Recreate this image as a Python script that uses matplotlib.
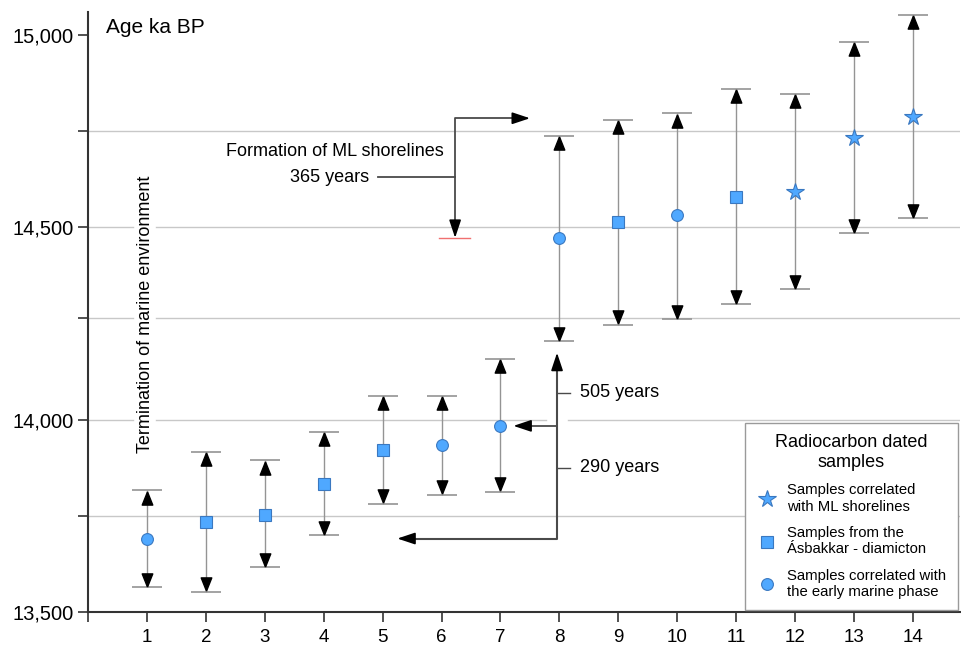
import matplotlib.pyplot as plt
from matplotlib.lines import Line2D
from matplotlib.transforms import offset_copy

plt.rcParams['font.family'] = ['Liberation Sans', 'DejaVu Sans']

# sample data (ages in years BP)
sample = list(range(1, 15))
age = [13691, 13735, 13753, 13834, 13922, 13935, 13984,
       14473, 14514, 14532, 14579, 14592, 14732, 14787]
age_max = [13816, 13917, 13894, 13969, 14062, 14062, 14158,
           14738, 14779, 14797, 14860, 14847, 14982, 15052]
age_min = [13564, 13553, 13616, 13699, 13782, 13805, 13813,
           14205, 14247, 14262, 14301, 14340, 14486, 14525]
group = ['marine', 'diamicton', 'diamicton', 'diamicton', 'diamicton', 'marine', 'marine',
         'marine', 'diamicton', 'marine', 'diamicton', 'shoreline', 'shoreline', 'shoreline']

ref_lines = [14750, 14500, 14265, 14000, 13750]

blue = '#4fa8ff'
edge = '#3a78c0'
styles = {'shoreline': ('*', 13), 'diamicton': ('s', 8), 'marine': ('o', 8.5)}

fig = plt.figure(figsize=(9.62, 6.45), dpi=100)
ax = fig.add_axes([0.0915, 0.0512, 0.9065, 0.930])
ax.set_xlim(0, 14.8)
ax.set_ylim(13500, 15060)

# reference lines, broken where the vertical label / arrow cross them
text_gap = (0.76, 1.16)
arrow_gap = (7.77, 8.15)
for v in ref_lines:
    gaps = []
    if 13914 < v < 14636:
        gaps.append(text_gap)
    if v == 14000:
        gaps.append(arrow_gap)
    start = 0
    for g0, g1 in gaps:
        ax.plot([start, g0], [v, v], color='#c8c8c8', lw=1, zorder=1)
        start = g1
    ax.plot([start, 14.8], [v, v], color='#c8c8c8', lw=1, zorder=1)

# error ranges
lo = [a - m for a, m in zip(age, age_min)]
hi = [m - a for a, m in zip(age, age_max)]
eb = ax.errorbar(sample, age, yerr=[lo, hi], fmt='none', ecolor='#949494', elinewidth=1,
                 capsize=10.5, capthick=1.2, zorder=2)
for cap in eb[1]:
    cap.set_color('#404040')

tri_up = [(0, 1), (-0.8, -1), (0.8, -1), (0, 1)]
tri_dn = [(0, -1), (-0.8, 1), (0.8, 1), (0, -1)]
ms = 9.5
up_tr = offset_copy(ax.transData, fig=fig, x=0, y=-ms / 2 - 0.5, units='points')
dn_tr = offset_copy(ax.transData, fig=fig, x=0, y=ms / 2 + 0.5, units='points')
ax.plot(sample, age_max, ls='none', marker=tri_up, ms=ms, color='black', transform=up_tr, zorder=3)
ax.plot(sample, age_min, ls='none', marker=tri_dn, ms=ms, color='black', transform=dn_tr, zorder=3)

for g, (mk, size) in styles.items():
    xs = [s for s, gg in zip(sample, group) if gg == g]
    ys = [a for a, gg in zip(age, group) if gg == g]
    ax.plot(xs, ys, ls='none', marker=mk, ms=size, mfc=blue, mec=edge, mew=0.8, zorder=4)

# annotations
line_c = '#4a4a4a'
head = dict(arrowstyle='-|>,head_length=0.6,head_width=0.2', color='black', lw=1.2,
            mutation_scale=18, shrinkA=0, shrinkB=0)

ax.plot([5.96, 6.49], [14473, 14473], color='#f07070', lw=1, zorder=2)
ax.plot([4.92, 6.23], [14631, 14631], color=line_c, lw=1.3)
ax.plot([6.23, 6.23, 7.4], [14500, 14784, 14784], color=line_c, lw=1.3)
ax.annotate('', xy=(6.23, 14473), xytext=(6.23, 14510), arrowprops=head)
ax.annotate('', xy=(7.5, 14784), xytext=(7.3, 14784), arrowprops=head)
ax.text(4.19, 14698, 'Formation of ML shorelines', fontsize=13, ha='center', va='center')
ax.text(4.77, 14631, '365 years', fontsize=13, ha='right', va='center')

ax.plot([5.35, 7.96, 7.96], [13691, 13691, 14150], color=line_c, lw=1.5)
ax.plot([7.96, 7.3], [13984, 13984], color=line_c, lw=1.3)
ax.annotate('', xy=(7.96, 14174), xytext=(7.96, 14130), arrowprops=head)
ax.annotate('', xy=(5.25, 13691), xytext=(5.45, 13691), arrowprops=head)
ax.annotate('', xy=(7.22, 13984), xytext=(7.42, 13984), arrowprops=head)
ax.plot([7.96, 8.18], [14070, 14070], color=line_c, lw=1)
ax.plot([7.96, 8.18], [13875, 13875], color=line_c, lw=1)
ax.text(8.35, 14070, '505 years', fontsize=13, ha='left', va='center')
ax.text(8.35, 13875, '290 years', fontsize=13, ha='left', va='center')

ax.text(0.97, 14275, 'Termination of marine environment', fontsize=13, rotation=90,
        ha='center', va='center', zorder=5)

ax.text(0.3, 15020, 'Age ka BP', fontsize=15, ha='left', va='center')

# axes styling
for s in ['top', 'right']:
    ax.spines[s].set_visible(False)
for s in ['left', 'bottom']:
    ax.spines[s].set_color('#333333')
    ax.spines[s].set_linewidth(1.5)
ax.set_xticks(range(0, 15))
ax.set_xticklabels([''] + [str(i) for i in sample], fontsize=13.5)
ax.set_yticks([13500, 14000, 14500, 15000])
ax.set_yticklabels(['13,500', '14,000', '14,500', '15,000'], fontsize=14.5)
ax.set_yticks([13750, 14265, 14750], minor=True)
ax.tick_params(axis='both', which='both', direction='out', length=7, width=1.2, color='#333333')
ax.tick_params(axis='x', pad=5)

handles = [Line2D([], [], ls='none', marker='*', ms=13, mfc=blue, mec=edge, mew=0.8),
           Line2D([], [], ls='none', marker='s', ms=8, mfc=blue, mec=edge, mew=0.8),
           Line2D([], [], ls='none', marker='o', ms=8.5, mfc=blue, mec=edge, mew=0.8)]
labels = ['Samples correlated\nwith ML shorelines',
          'Samples from the\nÁsbakkar - diamicton',
          'Samples correlated with\nthe early marine phase']
leg = ax.legend(handles, labels, title='Radiocarbon dated\nsamples', loc='upper left',
                bbox_to_anchor=(745 / 962, 1 - 423 / 645), bbox_transform=fig.transFigure,
                borderaxespad=0, fontsize=10.7, title_fontsize=13, frameon=True, fancybox=False,
                edgecolor='#9a9a9a', framealpha=1, borderpad=0.75, labelspacing=0.85,
                handletextpad=0.6, handlelength=1.5)
leg.get_title().set_multialignment('center')
leg.get_frame().set_linewidth(1)
leg.set_zorder(10)

plt.savefig('out.png', dpi=100)
plt.close()
